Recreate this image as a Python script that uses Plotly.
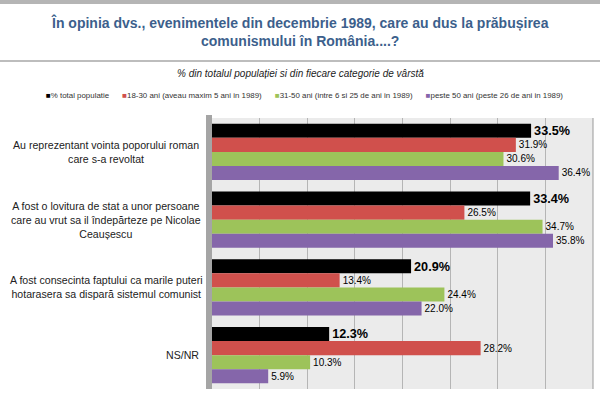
import plotly.graph_objects as go

categories = [
    "Au reprezentant vointa poporului roman<br>care s-a revoltat",
    "A fost o lovitura de stat a unor persoane<br>care au vrut sa il îndepărteze pe Nicolae<br>Ceaușescu",
    "A fost consecinta faptului ca marile puteri<br>hotarasera sa dispară sistemul comunist",
    "NS/NR",
]
series_names = [
    "% total populatie",
    "18-30 ani (aveau maxim 5 ani in 1989)",
    "31-50 ani (intre 6 si 25 de ani in 1989)",
    "peste 50 ani (peste 26 de ani in 1989)",
]
total = [33.5, 33.4, 20.9, 12.3]
age_18_30 = [31.9, 26.5, 13.4, 28.2]
age_31_50 = [30.6, 34.7, 24.4, 10.3]
age_50p = [36.4, 35.8, 22.0, 5.9]
colors = ["#000000", "#D0504C", "#9DC35A", "#8566AA"]

title = "În opinia dvs., evenimentele din decembrie 1989, care au dus la prăbușirea<br>comunismului în România....?"
subtitle = "% din totalul populației si din fiecare categorie de vârstă"

FONT = "Liberation Sans, Arial"

fig = go.Figure()
for i, (name, vals) in enumerate(zip(series_names, [total, age_18_30, age_31_50, age_50p])):
    big = i == 0
    fig.add_trace(go.Bar(
        y=categories, x=vals, name=name, orientation="h",
        marker=dict(color=colors[i], line=dict(width=0)),
        text=[f"{v:.1f}%" for v in vals], textposition="outside",
        textfont=dict(size=13.5 if big else 10, color="#000", family=FONT),
        texttemplate="<b>%{text}</b>" if big else "%{text}",
        cliponaxis=False, showlegend=False,
    ))

fig.update_layout(
    width=600, height=400,
    margin=dict(l=0, r=0, t=0, b=0),
    paper_bgcolor="white", plot_bgcolor="#EBEBEB",
    barmode="group", bargap=0.17, bargroupgap=0,
    font=dict(family=FONT, color="#222"),
    showlegend=False,
    xaxis=dict(domain=[212/600, 593/600], range=[0, 40], dtick=5, showticklabels=False,
               showgrid=True, gridcolor="#B5B5B5", gridwidth=1, zeroline=False,
               ticks="", fixedrange=True),
    yaxis=dict(domain=[1 - 389/400, 1 - 118/400], autorange="reversed",
               showticklabels=False, ticks="", showgrid=False),
)

# category labels to the left of the plot
for c in categories:
    if "<br>" in c:
        fig.add_annotation(x=106/600, xref="paper", y=c, yref="y", text=c, showarrow=False,
                           align="center", xanchor="center", yanchor="middle",
                           font=dict(size=10.6, color="#222"))
    else:
        fig.add_annotation(x=201/600, xref="paper", y=c, yref="y", text=c, showarrow=False,
                           align="right", xanchor="right", yanchor="middle",
                           font=dict(size=10.6, color="#222"))

# legend (text based, like the original small-square legend)
sep = "&nbsp;" * 6
legend_text = sep.join(
    f"<span style='color:{col}'>■</span>{name}" for name, col in zip(series_names, colors)
)
fig.add_annotation(x=304/600, xref="paper", y=1 - 95/400, yref="paper", text=legend_text,
                   showarrow=False, xanchor="center", yanchor="middle",
                   font=dict(size=7.9, color="#333"))

fig.add_annotation(x=0.5, xref="paper", y=1 - 32/400, yref="paper", text="<b>" + title + "</b>",
                   showarrow=False, align="center", xanchor="center", yanchor="middle",
                   font=dict(size=14, color="#3C5F8C"))
fig.add_annotation(x=0.5, xref="paper", y=1 - 73/400, yref="paper", text="<i>" + subtitle + "</i>",
                   showarrow=False, align="center", xanchor="center", yanchor="middle",
                   font=dict(size=10, color="#222"))

# decorative shapes: top strip, separator line, plot border, left wall
fig.add_shape(type="rect", xref="paper", yref="paper", x0=0, x1=1, y0=1 - 4/400, y1=1,
              fillcolor="#B5B5B5", line=dict(width=0), layer="above")
fig.add_shape(type="line", xref="paper", yref="paper", x0=0, x1=1, y0=1 - 61/400, y1=1 - 61/400,
              line=dict(color="#BDBDBD", width=2))
fig.add_shape(type="rect", xref="paper", yref="paper", x0=206/600, x1=212/600,
              y0=1 - 389/400, y1=1 - 115/400, fillcolor="#A5A5A5", line=dict(width=0))
fig.add_shape(type="line", xref="paper", yref="paper", x0=593/600, x1=593/600,
              y0=1 - 389/400, y1=1 - 118/400, line=dict(color="#999", width=1))

fig.write_html("out.html")
